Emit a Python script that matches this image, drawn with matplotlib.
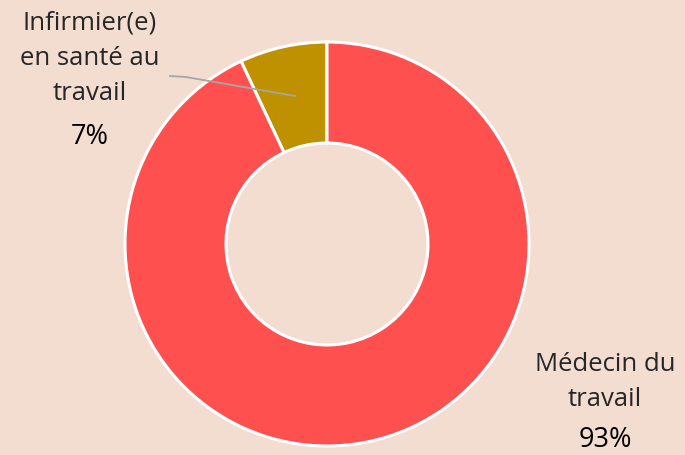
import matplotlib.pyplot as plt

labels = ["Infirmier(e)\nen santé au\ntravail", "Médecin du\ntravail"]
values = [7, 93]
colors = ["#BF9000", "#FF5050"]

bg = "#F3DDD1"
H = 456

fig = plt.figure(figsize=(6.85, 4.56), dpi=100, facecolor=bg)
ax = fig.add_axes([0, 0, 1, 1])
ax.set_facecolor(bg)

# donut, center and radius in pixel coords (y measured from top, flipped)
cx, cy, r = 327, 245, 202
wedges, _ = ax.pie(values, colors=colors, startangle=90, counterclock=True,
                   center=(cx, H - cy), radius=r,
                   wedgeprops=dict(width=r * 0.5, edgecolor="white", linewidth=2.2))
ax.set_xlim(0, 685)
ax.set_ylim(0, H)
ax.set_aspect("equal")
ax.axis("off")

font = "Open Sans"
txt = "#262626"

# Infirmier label + leader line
ax.plot([170, 186, 295], [H - 77, H - 78, H - 97], color="#A6A6A6", lw=1.3, zorder=5)
ax.text(90, H - 58, labels[0], ha="center", va="center", fontsize=18.5,
        family=font, color=txt, linespacing=1.55)
ax.text(90, H - 137, f"{values[0]}%", ha="center", va="center", fontsize=19.5,
        family=font, color="black")

# Médecin label
ax.text(605, H - 382, labels[1], ha="center", va="center", fontsize=18.5,
        family=font, color=txt, linespacing=1.55)
ax.text(605, H - 440, f"{values[1]}%", ha="center", va="center", fontsize=19.5,
        family=font, color="black")

fig.savefig("out.png", dpi=100, facecolor=bg)
